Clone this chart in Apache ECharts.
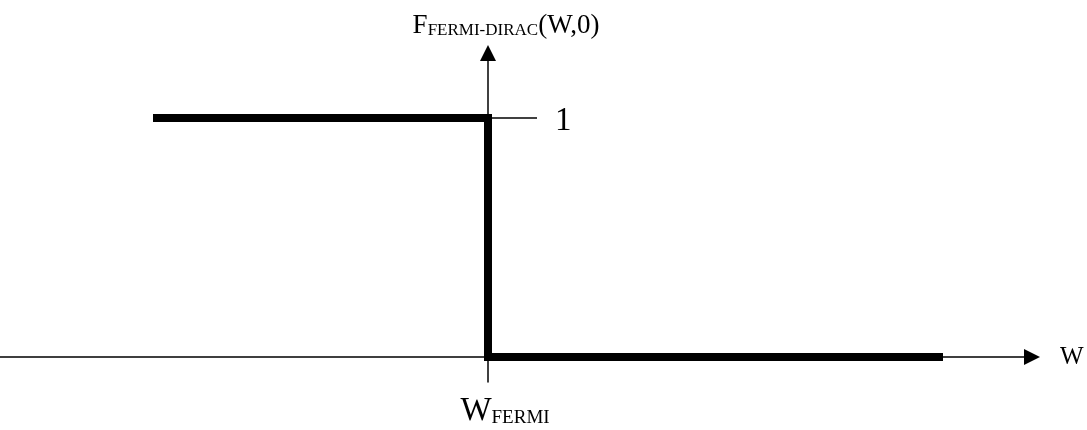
<!DOCTYPE html>
<html>
<head>
<meta charset="utf-8">
<script src="https://cdn.jsdelivr.net/npm/echarts@6/dist/echarts.min.js"></script>
<style>
html,body{margin:0;padding:0;background:#fff;}
#chart{width:1087px;height:430px;}
</style>
</head>
<body>
<div id="chart"></div>
<script>
// energy W measured from W_FERMI (arbitrary units), occupancy at T = 0
var energy = [-3.35, 0, 0, 4.55];
var occupancy = [1, 1, 0, 0];
var yTicks = [1];
var xTicks = [0];

var xMin = -4.88, xMax = 5.44;
var yMin = -0.1046, yMax = 1.272;
var gridW = 1032, gridH = 329;

var serif = '"Liberation Serif", "DejaVu Serif", serif';

var chart = echarts.init(document.getElementById('chart'));

var points = energy.map(function (w, i) { return [w, occupancy[i]]; });

// axes cross at (0,0): shift them from the grid edges to the zero lines
var xAxisOffset = -gridH * (0 - yMin) / (yMax - yMin);
var yAxisOffset = -gridW * (xMax - 0) / (xMax - xMin);

chart.setOption({
    animation: false,
    backgroundColor: '#fff',
    grid: { left: 0, top: 53, width: gridW, height: gridH, containLabel: false, outerBoundsMode: 'none' },
    xAxis: {
        type: 'value',
        min: xMin,
        max: xMax,
        position: 'bottom',
        offset: xAxisOffset,
        name: 'W',
        nameLocation: 'end',
        nameGap: 28,
        nameTextStyle: { color: '#000', fontFamily: serif, fontSize: 25, verticalAlign: 'middle' },
        axisLine: {
            onZero: false,
            symbol: ['none', 'triangle'],
            symbolSize: [16, 16],
            lineStyle: { color: '#000', width: 1.5 }
        },
        axisTick: { show: false },
        splitLine: { show: false },
        axisLabel: {
            customValues: xTicks,
            margin: 38,
            color: '#000',
            fontFamily: serif,
            formatter: function () { return '{a|W}{b|FERMI}'; },
            rich: {
                a: { fontSize: 33, fontFamily: serif, color: '#000', verticalAlign: 'bottom', lineHeight: 33, padding: [0, 0, 0, 34] },
                b: { fontSize: 19, fontFamily: serif, color: '#000', verticalAlign: 'bottom', lineHeight: 19 }
            }
        }
    },
    yAxis: {
        type: 'value',
        position: 'right',
        offset: yAxisOffset,
        min: yMin,
        max: yMax,
        name: '{a|F}{b|FERMI-DIRAC}{a|(W,0)}',
        nameLocation: 'end',
        nameGap: 14,
        nameTextStyle: {
            padding: [0, 0, 0, 36],
            rich: {
                a: { fontSize: 27, fontFamily: serif, color: '#000', verticalAlign: 'bottom', lineHeight: 27 },
                b: { fontSize: 17, fontFamily: serif, color: '#000', verticalAlign: 'bottom', lineHeight: 17 }
            }
        },
        axisLine: {
            onZero: false,
            symbol: ['none', 'triangle'],
            symbolSize: [16, 16],
            lineStyle: { color: '#000', width: 1.5 }
        },
        axisTick: {
            customValues: yTicks,
            length: 49,
            lineStyle: { color: '#000', width: 1.5 }
        },
        splitLine: { show: false },
        axisLabel: {
            customValues: yTicks,
            margin: 67,
            verticalAlign: 'top',
            lineHeight: 7,
            color: '#000',
            fontFamily: serif,
            fontSize: 33
        }
    },
    series: [{
        type: 'line',
        data: points,
        symbol: 'none',
        silent: true,
        lineStyle: { color: '#000', width: 8, cap: 'butt', join: 'miter' }
    }]
});
</script>
</body>
</html>
